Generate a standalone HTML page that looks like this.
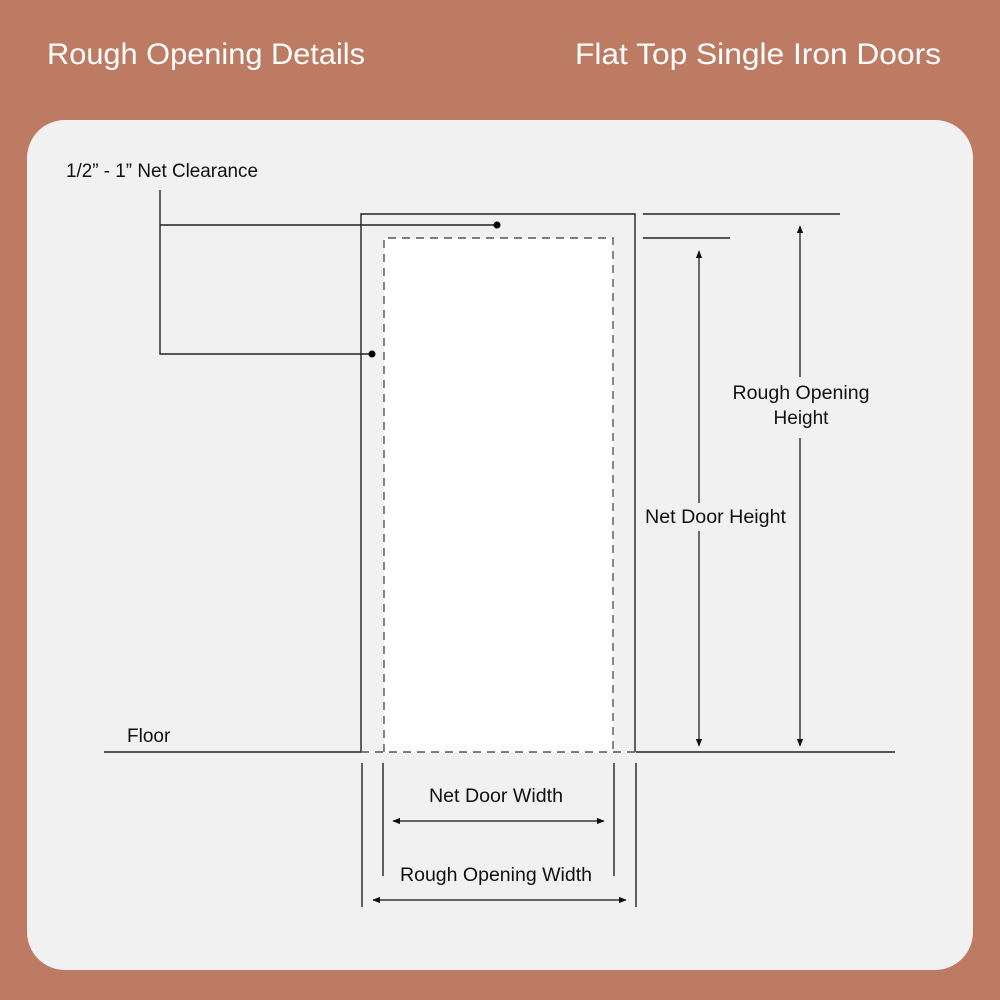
<!DOCTYPE html>
<html><head><style>body{margin:0;background:#bd7b63}svg{display:block}</style></head><body>
<svg width="1000" height="1000" viewBox="0 0 1000 1000" xmlns="http://www.w3.org/2000/svg" font-family="Liberation Sans, sans-serif">
<defs><marker id="a" viewBox="0 0 10 10" refX="9" refY="5" markerWidth="8" markerHeight="8" orient="auto-start-reverse" markerUnits="userSpaceOnUse"><path d="M0,1 L10,5 L0,9 z" fill="#111"/></marker></defs>
<rect width="1000" height="1000" fill="#bd7b63"/>
<text x="47" y="64" font-size="30" fill="#fff" textLength="318" lengthAdjust="spacingAndGlyphs">Rough Opening Details</text>
<text x="575" y="64" font-size="30" fill="#fff" textLength="366" lengthAdjust="spacingAndGlyphs">Flat Top Single Iron Doors</text>
<rect x="27" y="120" width="946" height="850" rx="38" fill="#f1f1f1"/>
<rect x="384" y="238" width="229" height="514" fill="#fff"/>
<g stroke="#222" stroke-width="1.4" fill="none">
<path d="M361,752 V214 H635 V752"/>
<path d="M104,752 H361 M636,752 H895"/>
<path d="M643,214 H840 M643,238 H730"/>
<path d="M362,763 V907 M383,763 V876 M614,763 V876 M636,763 V907"/>
<path d="M160,190 V354 H372 M160,225 H497"/>
</g>
<g stroke="#555" stroke-width="1.4" fill="none" stroke-dasharray="8,6">
<path d="M384,752 V238 H613 V752"/>
<path d="M361,752 H636"/>
</g>
<g stroke="#111" stroke-width="1.2">
<line x1="699" y1="251" x2="699" y2="746" marker-start="url(#a)" marker-end="url(#a)"/>
<line x1="800" y1="226" x2="800" y2="746" marker-start="url(#a)" marker-end="url(#a)"/>
<line x1="393" y1="821" x2="604" y2="821" marker-start="url(#a)" marker-end="url(#a)"/>
<line x1="373" y1="900" x2="626" y2="900" marker-start="url(#a)" marker-end="url(#a)"/>
</g>
<rect x="790" y="377" width="20" height="61" fill="#f1f1f1"/>
<rect x="690" y="503" width="20" height="28" fill="#f1f1f1"/>
<circle cx="497" cy="225" r="3.5" fill="#000"/>
<circle cx="372" cy="354" r="3.5" fill="#000"/>
<g font-size="19" fill="#111">
<text x="66" y="177" textLength="192" lengthAdjust="spacingAndGlyphs">1/2” - 1” Net Clearance</text>
<text x="127" y="742">Floor</text>
<text x="645" y="523" textLength="141" lengthAdjust="spacingAndGlyphs">Net Door Height</text>
<text x="801" y="399" text-anchor="middle" textLength="137" lengthAdjust="spacingAndGlyphs">Rough Opening</text>
<text x="801" y="424" text-anchor="middle">Height</text>
<text x="496" y="802" text-anchor="middle" textLength="134" lengthAdjust="spacingAndGlyphs">Net Door Width</text>
<text x="496" y="881" text-anchor="middle" textLength="192" lengthAdjust="spacingAndGlyphs">Rough Opening Width</text>
</g>
</svg>
</body></html>
